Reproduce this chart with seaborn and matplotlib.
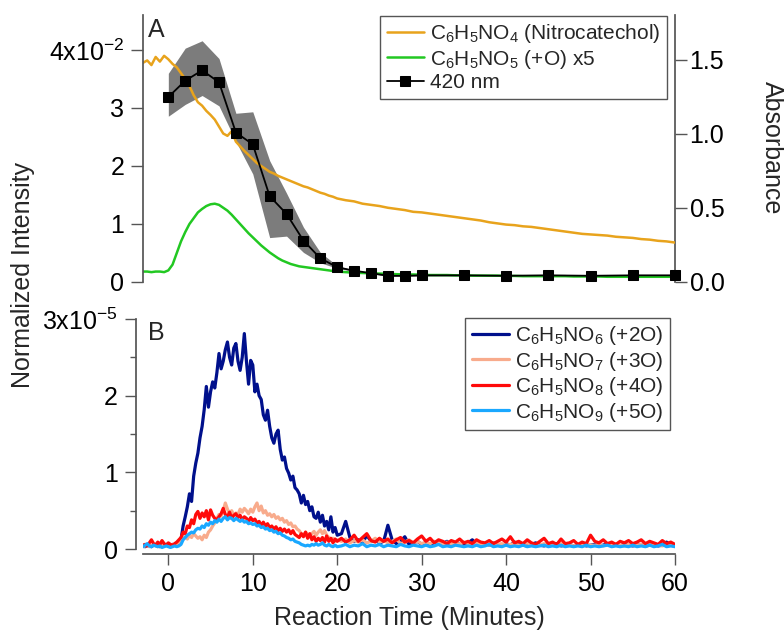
import numpy as np
import matplotlib
matplotlib.use("Agg")
import matplotlib.pyplot as plt
import seaborn as sns

# ---------------- data ----------------
# Panel A (left axis, units of 1e-2)
t_a_early = np.arange(-3, 20.001, 0.5)
t_a_late = np.arange(21, 60.001, 1.0)
nitrocatechol_e2 = [
    3.78, 3.82, 3.74, 3.88, 3.80, 3.90, 3.84, 3.76, 3.70, 3.60,
    3.50, 3.38, 3.22, 3.10, 3.04, 2.95, 2.88, 2.80, 2.68, 2.56,
    2.52, 2.60, 2.42, 2.34, 2.26, 2.19, 2.12, 2.05, 2.00, 1.95,
    1.90, 1.87, 1.83, 1.80, 1.77, 1.74, 1.71, 1.68, 1.65, 1.63,
    1.60, 1.57, 1.54, 1.52, 1.49, 1.47, 1.44,
    1.41, 1.39, 1.35, 1.33, 1.31, 1.28, 1.26, 1.24, 1.21, 1.20,
    1.18, 1.16, 1.14, 1.12, 1.10, 1.08, 1.06, 1.03, 1.01, 0.99,
    0.98, 0.96, 0.95, 0.93, 0.91, 0.89, 0.87, 0.85, 0.83, 0.82,
    0.81, 0.80, 0.78, 0.77, 0.76, 0.74, 0.73, 0.71, 0.70, 0.68,
]
plus_o_x5_e2 = [
    0.18, 0.18, 0.17, 0.18, 0.18, 0.17, 0.20, 0.30, 0.50, 0.70,
    0.86, 1.00, 1.10, 1.20, 1.26, 1.31, 1.34, 1.35, 1.33, 1.28,
    1.23, 1.16, 1.08, 1.00, 0.92, 0.84, 0.77, 0.70, 0.63, 0.57,
    0.51, 0.46, 0.41, 0.37, 0.34, 0.31, 0.29, 0.27, 0.26, 0.25,
    0.24, 0.23, 0.22, 0.21, 0.20, 0.19, 0.18,
    0.17, 0.16, 0.155, 0.15, 0.145, 0.14, 0.135, 0.13, 0.13, 0.125,
    0.12, 0.12, 0.12, 0.115, 0.115, 0.11, 0.11, 0.11, 0.11, 0.105,
    0.105, 0.10, 0.10, 0.10, 0.10, 0.10, 0.10, 0.095, 0.095, 0.095,
    0.095, 0.09, 0.09, 0.09, 0.09, 0.09, 0.09, 0.09, 0.09, 0.09,
]
# Panel A right axis: absorbance at 420 nm
t_420 = [0, 2, 4, 6, 8, 10, 12, 14, 16, 18, 20, 22, 24, 26, 28, 30,
         35, 40, 45, 50, 55, 60]
abs_420 = [1.25, 1.36, 1.43, 1.35, 1.01, 0.93, 0.58, 0.46, 0.28, 0.16, 0.10,
           0.076, 0.060, 0.042, 0.042, 0.045, 0.045, 0.042, 0.045, 0.042,
           0.045, 0.045]
abs_420_hi = [1.41, 1.58, 1.63, 1.51, 1.14, 1.15, 0.82, 0.60, 0.37, 0.20, 0.11,
              0.080, 0.064, 0.046, 0.046, 0.049, 0.049, 0.046, 0.049, 0.046,
              0.049, 0.049]
abs_420_lo = [1.12, 1.20, 1.26, 1.19, 0.95, 0.73, 0.30, 0.31, 0.20, 0.13, 0.092,
              0.072, 0.056, 0.038, 0.038, 0.041, 0.041, 0.038, 0.041, 0.038,
              0.041, 0.041]

# Panel B (units of 1e-5)
no6_early = [
    0.04, 0.03, 0.05, 0.04, 0.03, 0.05, 0.06, 0.04, 0.03, 0.05,
    0.04, 0.06, 0.05, 0.04, 0.06, 0.05, 0.07, 0.06, 0.12, 0.30,
    0.42, 0.55, 0.72, 0.62, 0.95, 1.12, 1.25, 1.45, 1.60, 1.82,
    2.12, 1.85, 2.05, 2.18, 2.10, 2.30, 2.55, 2.35, 2.45, 2.60,
    2.70, 2.50, 2.40, 2.62, 2.68, 2.45, 2.33, 2.50, 2.81, 2.45,
    2.15, 2.46, 2.40, 2.05, 2.15, 2.00, 1.95, 1.75, 1.68, 1.81,
    1.60, 1.45, 1.38, 1.50, 1.55, 1.30, 1.16, 1.20, 1.05, 0.99,
    0.90, 0.95, 0.80, 0.77, 0.72, 0.60, 0.70, 0.58, 0.62, 0.50,
    0.55, 0.42, 0.40, 0.48, 0.35, 0.44, 0.30, 0.36, 0.25, 0.42,
    0.22, 0.28, 0.18,
]
no6_late = [
    0.20, 0.36, 0.15, 0.10, 0.12, 0.08, 0.18, 0.10, 0.12, 0.08,
    0.10, 0.31, 0.12, 0.07, 0.10, 0.16, 0.06, 0.08, 0.10, 0.06,
    0.08, 0.05, 0.09, 0.06, 0.07, 0.10, 0.05, 0.08, 0.06, 0.05,
    0.08, 0.12, 0.06, 0.05, 0.07, 0.05, 0.08, 0.06, 0.05, 0.07,
    0.05, 0.09, 0.06, 0.05, 0.04, 0.06, 0.08, 0.05, 0.04, 0.06,
    0.05, 0.07, 0.04, 0.05, 0.06, 0.04, 0.05, 0.06, 0.04, 0.05,
    0.06, 0.04, 0.05, 0.07, 0.04, 0.05, 0.04, 0.06, 0.05, 0.04,
    0.05, 0.06, 0.04, 0.05, 0.06, 0.04, 0.05, 0.09, 0.05, 0.04,
]
no7_early = [
    0.03, 0.04, 0.05, 0.03, 0.04, 0.06, 0.04, 0.03, 0.05, 0.04,
    0.06, 0.05, 0.04, 0.05, 0.06, 0.05, 0.07, 0.08, 0.10, 0.14,
    0.16, 0.13, 0.18, 0.15, 0.20, 0.17, 0.14, 0.16, 0.12, 0.18,
    0.15, 0.22, 0.25, 0.30, 0.34, 0.40, 0.45, 0.43, 0.50, 0.60,
    0.52, 0.46, 0.50, 0.44, 0.47, 0.45, 0.52, 0.48, 0.53, 0.50,
    0.46, 0.52, 0.48, 0.55, 0.60, 0.50, 0.56, 0.47, 0.50, 0.44,
    0.46, 0.42, 0.45, 0.40, 0.42, 0.38, 0.40, 0.35, 0.37, 0.32,
    0.34, 0.29, 0.30, 0.26, 0.24, 0.20, 0.18, 0.22, 0.19, 0.16,
    0.20, 0.23, 0.18, 0.22, 0.25, 0.20, 0.24, 0.18, 0.15, 0.12,
    0.14, 0.10, 0.12,
]
no7_late = [
    0.10, 0.13, 0.08, 0.11, 0.09, 0.12, 0.08, 0.10, 0.14, 0.09,
    0.11, 0.08, 0.10, 0.13, 0.07, 0.09, 0.12, 0.08, 0.10, 0.07,
    0.09, 0.07, 0.10, 0.08, 0.06, 0.09, 0.07, 0.08, 0.06, 0.09,
    0.07, 0.06, 0.08, 0.06, 0.07, 0.05, 0.08, 0.06, 0.07, 0.05,
    0.06, 0.07, 0.05, 0.06, 0.08, 0.05, 0.06, 0.05, 0.07, 0.05,
    0.06, 0.05, 0.07, 0.05, 0.06, 0.04, 0.06, 0.05, 0.07, 0.05,
    0.05, 0.06, 0.04, 0.06, 0.05, 0.07, 0.05, 0.04, 0.06, 0.05,
    0.05, 0.06, 0.04, 0.05, 0.07, 0.05, 0.04, 0.06, 0.05, 0.04,
]
no8_early = [
    0.05, 0.06, 0.04, 0.08, 0.12, 0.07, 0.05, 0.09, 0.06, 0.11,
    0.07, 0.05, 0.08, 0.06, 0.05, 0.07, 0.09, 0.12, 0.15, 0.22,
    0.20, 0.30, 0.28, 0.38, 0.33, 0.45, 0.49, 0.40, 0.47, 0.42,
    0.50, 0.38, 0.51, 0.44, 0.40, 0.38, 0.42, 0.46, 0.53, 0.45,
    0.42, 0.48, 0.40, 0.44, 0.46, 0.41, 0.44, 0.38, 0.42, 0.40,
    0.36, 0.41, 0.37, 0.39, 0.34, 0.36, 0.31, 0.35, 0.30, 0.33,
    0.28, 0.30, 0.26, 0.29, 0.24, 0.27, 0.23, 0.26, 0.22, 0.25,
    0.20, 0.24, 0.19, 0.17, 0.15, 0.20, 0.16, 0.22, 0.14, 0.20,
    0.12, 0.16, 0.10, 0.14, 0.11, 0.15, 0.09, 0.17, 0.10, 0.14,
    0.08, 0.13, 0.10,
]
no8_late = [
    0.14, 0.09, 0.12, 0.18, 0.10, 0.15, 0.20, 0.11, 0.09, 0.14,
    0.10, 0.13, 0.08, 0.12, 0.15, 0.09, 0.11, 0.08, 0.13, 0.17,
    0.10, 0.14, 0.08, 0.12, 0.10, 0.07, 0.11, 0.09, 0.13, 0.08,
    0.10, 0.07, 0.12, 0.09, 0.08, 0.11, 0.07, 0.10, 0.13, 0.09,
    0.16, 0.08, 0.10, 0.07, 0.12, 0.08, 0.06, 0.10, 0.14, 0.07,
    0.09, 0.06, 0.13, 0.07, 0.08, 0.11, 0.06, 0.09, 0.07, 0.18,
    0.10, 0.08, 0.12, 0.07, 0.09, 0.06, 0.10, 0.08, 0.11, 0.07,
    0.09, 0.12, 0.07, 0.10, 0.08, 0.06, 0.11, 0.07, 0.09, 0.06,
]
no9_early = [
    0.03, 0.05, 0.07, 0.04, 0.03, 0.05, 0.04, 0.03, 0.04, 0.02,
    0.03, 0.04, 0.03, 0.02, 0.03, 0.04, 0.03, 0.04, 0.06, 0.12,
    0.15, 0.18, 0.20, 0.22, 0.21, 0.25, 0.27, 0.26, 0.30, 0.28,
    0.33, 0.31, 0.35, 0.33, 0.37, 0.35, 0.39, 0.36, 0.40, 0.42,
    0.38, 0.41, 0.40, 0.37, 0.40, 0.38, 0.36, 0.38, 0.35, 0.36,
    0.33, 0.34, 0.32, 0.33, 0.30, 0.31, 0.28, 0.29, 0.26, 0.27,
    0.24, 0.25, 0.22, 0.23, 0.20, 0.21, 0.18, 0.17, 0.15, 0.14,
    0.12, 0.13, 0.10, 0.09, 0.08, 0.06, 0.05, 0.04, 0.05, 0.04,
    0.06, 0.05, 0.07, 0.05, 0.06, 0.08, 0.05, 0.04, 0.06, 0.04,
    0.03, 0.05, 0.03,
]
no9_late = [
    0.04, 0.06, 0.03, 0.05, 0.04, 0.07, 0.03, 0.05, 0.04, 0.06,
    0.03, 0.05, 0.04, 0.03, 0.06, 0.04, 0.03, 0.05, 0.04, 0.03,
    0.05, 0.03, 0.04, 0.06, 0.03, 0.04, 0.03, 0.05, 0.04, 0.03,
    0.04, 0.03, 0.05, 0.03, 0.04, 0.06, 0.03, 0.04, 0.03, 0.05,
    0.03, 0.04, 0.03, 0.05, 0.03, 0.04, 0.03, 0.04, 0.05, 0.03,
    0.04, 0.03, 0.05, 0.03, 0.04, 0.03, 0.04, 0.03, 0.05, 0.03,
    0.04, 0.03, 0.04, 0.05, 0.03, 0.04, 0.03, 0.04, 0.03, 0.05,
    0.03, 0.04, 0.03, 0.05, 0.03, 0.04, 0.06, 0.03, 0.04, 0.03,
]

labels_a = [r"C$_6$H$_5$NO$_4$ (Nitrocatechol)", r"C$_6$H$_5$NO$_5$ (+O) x5", "420 nm"]
labels_b = [r"C$_6$H$_5$NO$_6$ (+2O)", r"C$_6$H$_5$NO$_7$ (+3O)",
            r"C$_6$H$_5$NO$_8$ (+4O)", r"C$_6$H$_5$NO$_9$ (+5O)"]
colors_a = ["#E8A31C", "#22C822", "black"]
colors_b = ["#00108C", "#F8AB8C", "#FF0A0A", "#1AA8FF"]
x_ticks = [0, 10, 20, 30, 40, 50, 60]
left_a_ticks = [0, 1, 2, 3, 4]
left_a_labels = ["0", "1", "2", "3", r"4x10$^{-2}$"]
right_a_ticks = [0.0, 0.5, 1.0, 1.5]
left_b_ticks = [0, 1, 2, 3]
left_b_labels = ["0", "1", "2", r"3x10$^{-5}$"]

# ---------------- style ----------------
sns.set_theme(style="ticks")
plt.rcParams["font.family"] = ["Liberation Sans", "DejaVu Sans"]
plt.rcParams["mathtext.fontset"] = "custom"
plt.rcParams["mathtext.rm"] = "Liberation Sans"
plt.rcParams["mathtext.it"] = "Liberation Sans:italic"
plt.rcParams["mathtext.bf"] = "Liberation Sans:bold"
plt.rcParams["mathtext.default"] = "regular"
spine_c = "#555555"
FS = 18

fig = plt.figure(figsize=(7.84, 6.32), dpi=100)
W, H = 784.0, 632.0
ax1 = fig.add_axes([143 / W, 1 - 282 / H, 532 / W, 267 / H])
ax2 = ax1.twinx()
ax3 = fig.add_axes([143 / W, 1 - 554 / H, 532 / W, 235 / H])

ax1.set_zorder(ax2.get_zorder() + 1)
ax1.patch.set_visible(False)

t_a = np.concatenate([t_a_early, t_a_late])

# band on the twin axis (drawn underneath)
ax2.fill_between(t_420, abs_420_lo, abs_420_hi, color="#7c7c7c", lw=0)

sns.lineplot(x=t_a, y=nitrocatechol_e2, ax=ax1, color=colors_a[0], lw=1.8,
             estimator=None, label=labels_a[0])
sns.lineplot(x=t_a, y=plus_o_x5_e2, ax=ax1, color=colors_a[1], lw=1.8,
             estimator=None, label=labels_a[1])
sns.lineplot(x=t_420, y=abs_420, ax=ax1, color="black", lw=1.3, marker="s",
             markersize=6.5, markeredgecolor="black", markerfacecolor="black",
             estimator=None, label=labels_a[2], transform=ax2.transData,
             clip_on=False, zorder=5)

ax1.set_xlim(-3, 60)
ax1.set_ylim(0, 267 / 58.0)
ax2.set_ylim(0, 267 / 148.0)
ax1.set_xlabel("")
ax1.set_ylabel("")
ax2.set_ylabel("")

for sp in ["top", "bottom", "right"]:
    ax1.spines[sp].set_visible(False)
for sp in ["top", "bottom", "left"]:
    ax2.spines[sp].set_visible(False)
ax1.spines["left"].set_color(spine_c)
ax2.spines["right"].set_color(spine_c)
ax1.set_xticks([])
ax1.set_yticks(left_a_ticks)
ax1.set_yticklabels(left_a_labels)
ax2.set_yticks(right_a_ticks)
ax2.set_yticklabels([f"{v:.1f}" for v in right_a_ticks])
ax1.tick_params(axis="y", direction="out", length=8.5, width=1, color=spine_c,
                labelsize=FS, pad=5, labelcolor="black")
ax2.tick_params(axis="y", direction="out", length=8.5, width=1, color=spine_c,
                labelsize=FS, pad=2, labelcolor="black")

leg_a = ax1.legend(loc="upper right", bbox_to_anchor=(667 / W, 1 - 16 / H),
                   bbox_transform=fig.transFigure, borderaxespad=0,
                   fancybox=False, framealpha=1, edgecolor=spine_c,
                   fontsize=15, handlelength=1.8, handletextpad=0.3,
                   borderpad=0.3, labelspacing=0.12)
leg_a.get_frame().set_linewidth(1)

# ---------------- panel B ----------------
t_b = np.concatenate([np.linspace(-3, 20, len(no6_early)),
                      np.linspace(20.5, 60, len(no6_late))])
series_b = [no6_early + no6_late, no7_early + no7_late,
            no8_early + no8_late, no9_early + no9_late]
for vals, c, lab in zip(series_b, colors_b, labels_b):
    sns.lineplot(x=t_b, y=vals, ax=ax3, color=c, lw=2.3, estimator=None,
                 label=lab)

ax3.set_xlim(-3, 60)
ax3.set_ylim(-5 / 76.67, 3.0)
ax3.set_xlabel("")
ax3.set_ylabel("")
for sp in ["top", "right"]:
    ax3.spines[sp].set_visible(False)
ax3.spines["left"].set_position(("outward", 5))
ax3.spines["left"].set_bounds(0, 3)
ax3.spines["left"].set_color(spine_c)
ax3.spines["bottom"].set_color(spine_c)
ax3.set_xticks(x_ticks)
ax3.set_xticklabels([str(v) for v in x_ticks])
ax3.set_yticks(left_b_ticks)
ax3.set_yticklabels(left_b_labels)
ax3.set_yticks([0.5, 1.5, 2.5], minor=True)
ax3.tick_params(axis="both", which="major", direction="out", length=8,
                width=1, color=spine_c, labelsize=FS, labelcolor="black")
ax3.tick_params(axis="y", which="major", pad=5)
ax3.tick_params(axis="x", which="major", pad=5)
ax3.tick_params(axis="y", which="minor", direction="out", length=4, width=1,
                color=spine_c)

leg_b = ax3.legend(loc="upper right", bbox_to_anchor=(670 / W, 1 - 318 / H),
                   bbox_transform=fig.transFigure, borderaxespad=0,
                   fancybox=False, framealpha=1, edgecolor=spine_c,
                   fontsize=15, handlelength=1.8, handletextpad=0.3,
                   borderpad=0.3, labelspacing=0.12)
leg_b.get_frame().set_linewidth(1)

# ---------------- texts ----------------
fig.text(148 / W, 1 - 37 / H, "A", fontsize=FS, va="baseline", ha="left")
fig.text(148 / W, 1 - 340 / H, "B", fontsize=FS, va="baseline", ha="left")
fig.text(23 / W, 1 - 275 / H, "Normalized Intensity", rotation=90,
         fontsize=FS, ha="center", va="center")
fig.text(772 / W, 1 - 148 / H, "Absorbance", rotation=-90,
         fontsize=FS, ha="center", va="center")
fig.text(409 / W, 1 - 625 / H, "Reaction Time (Minutes)", fontsize=FS,
         ha="center", va="baseline")

fig.savefig("out.png", dpi=100)
